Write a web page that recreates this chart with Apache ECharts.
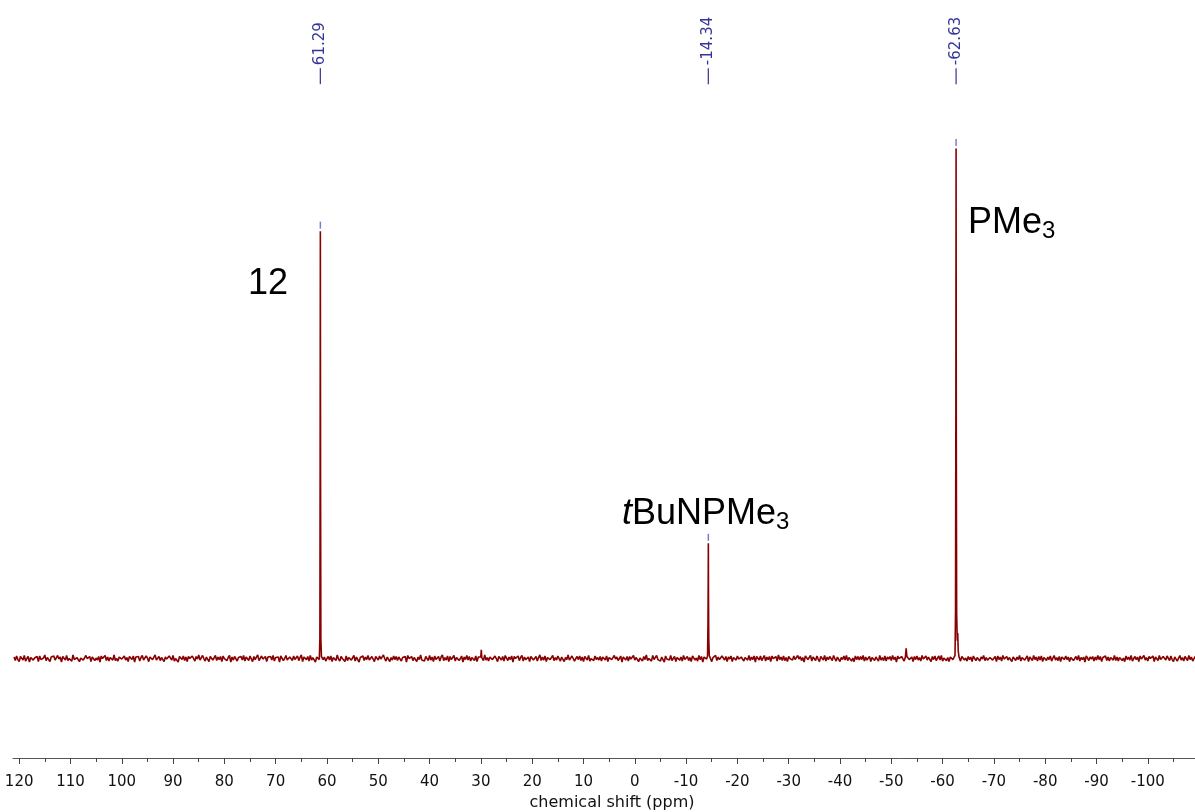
<!DOCTYPE html>
<html><head><meta charset="utf-8">
<script src="https://cdn.jsdelivr.net/npm/echarts@6/dist/echarts.min.js"></script>
<style>html,body{margin:0;padding:0;background:#fff}#c{width:1195px;height:812px}</style>
</head><body><div id="c"></div>
<script>
// ---- data ----
const majorTicks = [120,110,100,90,80,70,60,50,40,30,20,10,0,-10,-20,-30,-40,-50,-60,-70,-80,-90,-100];
const minorTicks = [115,105,95,85,75,65,55,45,35,25,15,5,-5,-15,-25,-35,-45,-55,-65,-75,-85,-95,-105];
const noiseStart = 121.0;   // ppm of first baseline sample
const noiseStep = 0.25;     // ppm between baseline samples
const baselineNoise = [
3,-4,5,-2,-6,4,1,-3,6,-5,0,4,-7,2,5,-3,1,-2,4,-6,
5,-2,-5,1,7,-4,2,-1,-6,3,0,5,-3,-4,6,-1,3,-7,4,1,
-3,6,-4,0,3,-5,7,-2,-4,2,5,-6,1,4,-3,-5,6,0,-2,4,
-6,3,5,-4,1,-3,4,-7,5,0,-2,6,-4,3,-5,2,4,-3,7,-4,
0,-5,3,6,-1,-4,5,-3,2,-6,4,3,-2,5,-7,3,0,4,-5,2,
6,-3,-4,5,1,-6,3,4,-2,-5,7,-3,0,4,-4,2,5,-6,3,-1,
-4,5,2,-3,6,-5,0,3,-7,4,1,-2,5,-4,3,-6,4,0,-3,5,
2,-5,4,-1,7,-3,-4,6,0,-5,3,2,-6,4,5,-3,-2,6,-4,3,
-2,4,-6,5,0,3,-4,2,6,-7,3,-3,4,5,-5,2,-1,4,-3,6,
-5,3,0,-4,5,2,-6,4,-2,3,7,-4,-3,5,-1,0,4,-6,3,2,
4,-3,6,-5,2,-1,3,-7,5,4,-4,0,6,-3,-5,3,2,-4,5,-2,
-3,5,-4,2,7,-6,3,0,-2,4,-5,6,-3,2,4,-7,3,5,-2,-4,
6,-2,3,-5,0,4,-3,5,-6,2,3,-4,7,-1,-5,4,0,3,-6,5,
-4,2,5,-3,-1,6,-5,3,4,-7,2,0,5,-4,3,-2,6,-3,-5,4,
2,-6,4,3,-3,5,-1,-4,7,0,-5,3,4,-6,2,-3,5,-2,4,-4,
3,5,-5,2,-1,4,-7,6,0,-3,4,-4,2,5,-6,3,-2,7,-3,0,
-5,4,2,-4,6,-3,3,-6,5,-2,0,4,-5,3,7,-4,2,-3,5,-6,
4,-2,-3,6,-5,2,4,-4,0,5,-7,3,-2,6,-3,4,-5,2,3,-4,
5,-6,3,0,-2,4,-4,7,-3,2,-5,3,6,-2,-4,5,0,-6,4,2,
-3,4,-5,6,1,-4,3,-2,5,-7,4,0,-3,5,-4,2,6,-5,3,-2,
0,3,-6,4,5,-3,-2,4,-5,2,7,-4,3,-3,5,-6,2,4,-2,-4,
6,-4,2,-3,5,0,-5,3,4,-6,2,-2,7,-3,-4,5,3,-5,0,4,
-2,5,-4,3,-6,4,2,-3,6,-5,0,3,-4,5,-2,2,-3,4,-5,3,
1,-3,5,-6,2,4,-2,-5,6,-1,3,-4,0,5,-7,3,2,-3,4,-5,
4,-1,-4,6,-3,2,5,-6,1,3,-5,4,-2,7,-4,0,3,-5,6,-2,
-4,6,-2,1,-5,3,4,-7,5,-1,2,-3,6,-4,0,4,-6,2,5,-3,
3,-5,6,-2,0,4,-4,2,-6,5,3,-3,1,-5,6,-2,4,-7,3,1,
-1,4,-3,5,-6,2,0,6,-4,3,-2,-5,5,2,-3,4,-6,3,-1,5,
-6,2,4,-3,5,-1,-4,3,6,-5,2,0,-3,6,-4,3,-2,5,-7,4,
2,-3,5,-4,1,6,-5,3,-2,4,-6,5,0,-3,4,-5,7,-2,3,-4,
5,-4,2,-6,4,0,3,-3,5,-2,-5,6,-1,4,-4,2,-7,5,3,-2,
-3,6,-5,3,2,-4,5,-1,-6,4,1,-3,6,-5,3,-2,4,0,-4,6,
0,-5,3,4,-6,2,-2,5,-3,6,-4,2,3,-5,1,-6,5,-2,4,-3,
4,-2,6,-5,3,-3,0,4,-6,2,5,-4,3,-1,-5,6,-3,2,-4,5,
-5,3,-1,4,-4,6,-2,3,-7,5,0,-3,4,2,-5,3,-4,6,-2,1,
3,-6,4,-2,5,-3,2,-5,6,-1,-4,5,-3,3,0,-6,4,-2,5,-4,
-2,5,-3,6,-5,1,4,-4,2,-6,3,5,-2,-3,6,-4,0,3,-5,4,
6,-3,1,-5,4,-2,3,-6,5,0,-4,2,4,-5,3,-1,6,-4,2,-3,
-4,2,5,-3,0,4,-6,5,-2,3,-5,6,-1,-4,4,-3,2,5,-6,3,
1,-4,3,-2,6,-5,2,4,-3,-1,5,-6,3,0,-4,6,-2,3,-5,4,
-3,5,-6,2,4,-4,3,-2,5,-5,1,6,-3,2,-4,4,-6,3,0,-2,
5,-2,3,-6,2,5,-4,0,4,-3,6,-5,2,-2,3,-7,5,1,-4,3,
-1,4,-5,3,-3,6,-2,4,-6,2,0,5,-4,3,-5,2,4,-3,6,-4,
3,-5,2,4,-4,1,-6,5,-2,3,-3,6,-5,0,4,-2,3,-6,5,-1,
-4,6,-3,2,-5,4,0,-3,5,-6,3,2,-4,6,-2,-5,4,3,-3,5,
2,-4,5,-2,-6,3,4,-5,1,6,-3,2,-5,4,0,-4,6,-2,3,-5,
-3,4
];
// peak shapes: [ppm, intensity]
const peak12 = [[61.48,3],[61.38,40],[61.33,380],[61.29,838],[61.25,360],[61.19,40],[61.08,4]];
const peakTBuNPMe3 = [[-14.18,5],[-14.27,70],[-14.31,150],[-14.34,226],[-14.37,120],[-14.42,40],[-14.52,6]];
const peakPMe3 = [[-62.42,6],[-62.52,90],[-62.59,500],[-62.63,1000],[-62.67,450],[-62.74,90],[-62.86,35],[-62.95,50],[-63.05,15],[-63.2,3]];
const peak30 = [[30.02,3],[29.92,17],[29.82,2]];
const peak53 = [[-52.76,4],[-52.9,20],[-53.04,4]];
const peakPositions = [61.29, -14.34, -62.63];
const peakHeights = [838, 226, 1000];

// ---- build spectrum (baseline samples outside peak windows + peak shapes) ----
const peakShapes = [peak12, peakTBuNPMe3, peakPMe3, peak30, peak53];
const windows = peakShapes.map(p => [Math.min(...p.map(d => d[0])), Math.max(...p.map(d => d[0]))]);
const spectrum = [];
baselineNoise.forEach((v, i) => {
  const x = noiseStart - i * noiseStep;
  if (!windows.some(w => x >= w[0] && x <= w[1])) spectrum.push([x, v]);
});
peakShapes.forEach(p => p.forEach(d => spectrum.push(d)));
spectrum.sort((a, b) => b[0] - a[0]);

const chart = echarts.init(document.getElementById('c'), null, {renderer: 'canvas'});
const axisFont = 'DejaVu Sans';
const option = {
  animation: false,
  backgroundColor: '#fff',
  grid: {left: 13, right: 0, top: 44, bottom: 54, containLabel: false, outerBoundsMode: 'none'},
  xAxis: [{
    type: 'value', inverse: true, min: -109.2, max: 121.2,
    name: 'chemical shift (ppm)', nameLocation: 'middle', nameGap: 30,
    nameTextStyle: {fontFamily: axisFont, fontSize: 16, color: '#111', padding: [0, 0, 0, 16]},
    axisLine: {onZero: false, lineStyle: {color: '#555', width: 1}},
    axisTick: {customValues: majorTicks, length: 6, lineStyle: {color: '#444', width: 1}},
    axisLabel: {customValues: majorTicks, margin: 17, fontFamily: axisFont, fontSize: 15, color: '#111'},
    splitLine: {show: false}
  }, {
    type: 'value', inverse: true, min: -109.2, max: 121.2, gridIndex: 0, position: 'bottom',
    axisLine: {show: false, onZero: false},
    axisTick: {customValues: minorTicks, length: 4, lineStyle: {color: '#444', width: 1}},
    axisLabel: {show: false},
    splitLine: {show: false}
  }],
  yAxis: {type: 'value', min: -195, max: 1205, show: false},
  series: [{
    type: 'line', data: spectrum, showSymbol: false, symbol: 'none',
    lineStyle: {color: '#880000', width: 1.6}, silent: true, z: 2
  }, {
    type: 'scatter', data: peakPositions.map((p, i) => [p, peakHeights[i]]),
    symbol: 'rect', symbolSize: [1.5, 7], symbolOffset: [0, -6],
    itemStyle: {color: '#5a5ac0'}, silent: true, z: 3
  }, {
    type: 'scatter', data: peakPositions.map(p => [p, 1142]),
    symbol: 'rect', symbolSize: [1.3, 16],
    itemStyle: {color: '#10107e'}, silent: true, z: 3,
    label: {
      show: true, position: 'top', distance: 3, rotate: 90, align: 'left', verticalAlign: 'middle',
      formatter: p => p.value[0].toFixed(2),
      fontFamily: axisFont, fontSize: 15, color: '#000080'
    }
  }],
  graphic: [
    {type: 'text', left: 248, top: 266, style: {text: '12', font: '36px "Liberation Sans"', fill: '#000'}},
    {type: 'text', left: 968, top: 205, style: {
      text: '{n|PMe}{s|3}', fill: '#000',
      rich: {n: {fontFamily: 'Liberation Sans', fontSize: 36, lineHeight: 40, fill: '#000'},
             s: {fontFamily: 'Liberation Sans', fontSize: 24, lineHeight: 26, verticalAlign: 'bottom', fill: '#000'}}}},
    {type: 'text', left: 622, top: 496, style: {
      text: '{i|t}{n|BuNPMe}{s|3}', fill: '#000',
      rich: {i: {fontFamily: 'Liberation Sans', fontStyle: 'italic', fontSize: 36, lineHeight: 40, fill: '#000'},
             n: {fontFamily: 'Liberation Sans', fontSize: 36, lineHeight: 40, fill: '#000'},
             s: {fontFamily: 'Liberation Sans', fontSize: 24, lineHeight: 26, verticalAlign: 'bottom', fill: '#000'}}}}
  ]
};
chart.setOption(option);
</script></body></html>
